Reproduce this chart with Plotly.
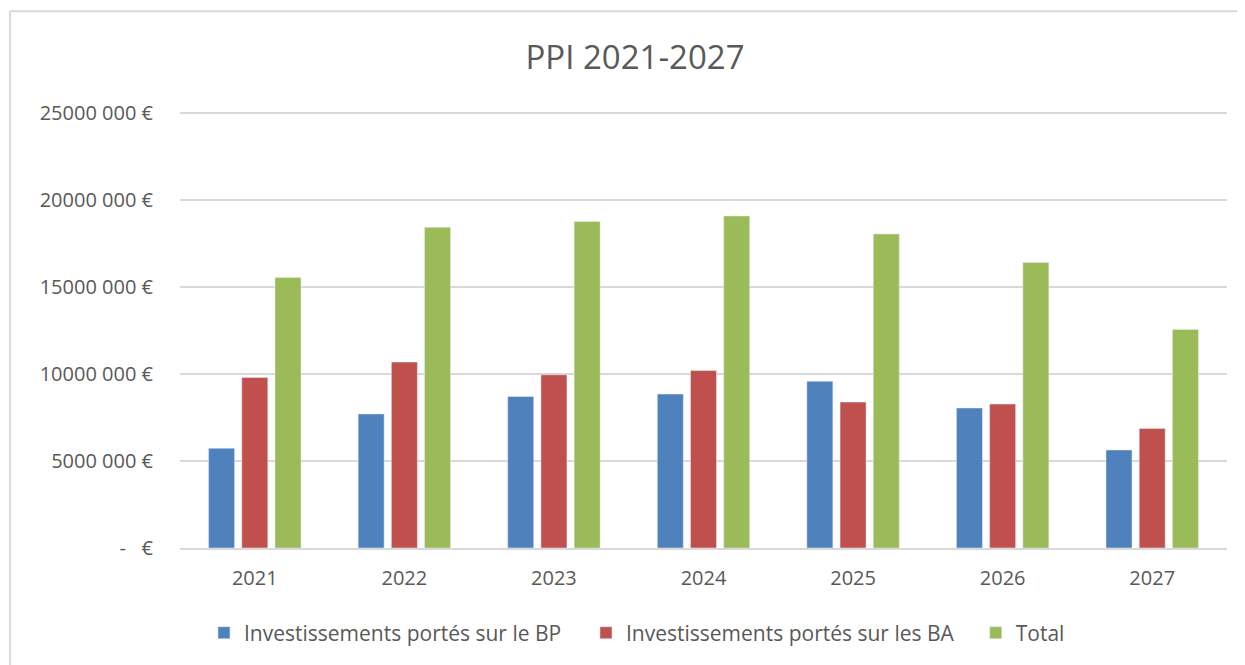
import plotly.graph_objects as go

years = ["2021", "2022", "2023", "2024", "2025", "2026", "2027"]
bp_values = [5730000, 7700000, 8700000, 8840000, 9580000, 8040000, 5630000]
ba_values = [9790000, 10680000, 9950000, 10190000, 8380000, 8270000, 6870000]
total_values = [15530000, 18420000, 18760000, 19070000, 18040000, 16400000, 12550000]

tick_vals = [0, 5000000, 10000000, 15000000, 20000000, 25000000]
tick_text = ["-   €", "5000 000 €", "10000 000 €", "15000 000 €", "20000 000 €", "25000 000 €"]

font_main = "Open Sans, Liberation Sans, sans-serif"
grey_text = "#595959"

fig = go.Figure()
fig.add_trace(go.Bar(x=years, y=bp_values, name="Investissements portés sur le BP", marker_color="#4F81BD"))
fig.add_trace(go.Bar(x=years, y=ba_values, name="Investissements portés sur les BA", marker_color="#C0504D"))
fig.add_trace(go.Bar(x=years, y=total_values, name="Total", marker_color="#9BBB59", legend="legend2"))

legend_style = dict(orientation="h", xanchor="left", y=-0.192, yanchor="middle",
                    font=dict(size=21, color=grey_text), traceorder="normal", bgcolor="rgba(0,0,0,0)")

# the page body adds an 8px offset, so the figure is 8px smaller
fig.update_layout(
    width=1237,
    height=657,
    margin=dict(l=172, r=18, t=103, b=116),
    paper_bgcolor="white",
    plot_bgcolor="white",
    font=dict(family=font_main, color=grey_text, size=20),
    title=dict(text="PPI 2021-2027", x=0.4346, xref="paper", xanchor="center",
               y=0.925, yanchor="middle", font=dict(size=33, color=grey_text)),
    barmode="group",
    bargap=0.334,
    bargroupgap=0.217,
    xaxis=dict(showgrid=False, ticks="", ticklabelstandoff=11,
               tickfont=dict(size=20, color=grey_text),
               showline=True, linecolor="#D9D9D9", linewidth=2),
    yaxis=dict(range=[0, 25100000], tickvals=tick_vals, ticktext=tick_text,
               showgrid=True, gridcolor="#D9D9D9", gridwidth=1.5,
               zeroline=False, ticks="", ticklabelstandoff=26,
               tickfont=dict(size=20, color=grey_text)),
    legend=dict(x=0.0229, entrywidth=337, entrywidthmode="pixels", **legend_style),
    legend2=dict(x=0.760, **legend_style),
    showlegend=True,
)

# chart frame (left and top edges visible)
fig.add_shape(type="line", xref="paper", yref="paper", x0=-0.1624, x1=-0.1624, y0=-0.3, y1=1.228,
              line=dict(color="#D9D9D9", width=2))
fig.add_shape(type="line", xref="paper", yref="paper", x0=-0.1624, x1=1.05, y0=1.228, y1=1.228,
              line=dict(color="#D9D9D9", width=2))

fig.write_html("out.html")
